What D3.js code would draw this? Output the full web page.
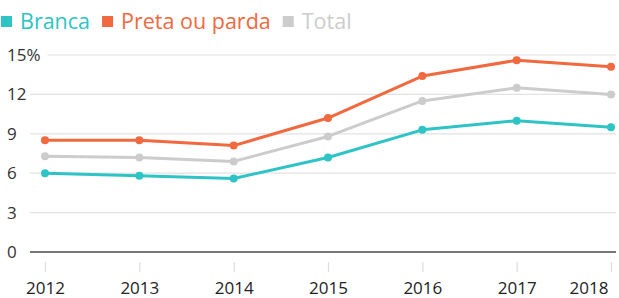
<!DOCTYPE html>
<html>
<head>
<meta charset="utf-8">
<script src="https://cdn.jsdelivr.net/npm/d3@7"></script>
<style>
  body { margin: 0; background: #fff; }
  svg { display: block; font-family: "Open Sans", sans-serif; }
</style>
</head>
<body>
<svg id="chart"></svg>
<script>
// Data
const years = [2012, 2013, 2014, 2015, 2016, 2017, 2018];
const branca = [6.0, 5.8, 5.6, 7.2, 9.3, 10.0, 9.5];
const pretaParda = [8.5, 8.5, 8.1, 10.2, 13.4, 14.6, 14.1];
const total = [7.3, 7.2, 6.9, 8.8, 11.5, 12.5, 12.0];
const yTicks = [0, 3, 6, 9, 12, 15];
const seriesNames = ["Branca", "Preta ou parda", "Total"];
const seriesColors = ["#2ec4c6", "#f0693f", "#cccccc"];

const width = 619;
const height = 298;

const series = [
  { name: seriesNames[0], values: branca, color: seriesColors[0] },
  { name: seriesNames[1], values: pretaParda, color: seriesColors[1] },
  { name: seriesNames[2], values: total, color: seriesColors[2] }
];

const x = d3.scaleLinear()
    .domain([2012, 2018])
    .range([45, 611]);

const y = d3.scaleLinear()
    .domain([0, 15])
    .range([252, 55]);

const svg = d3.select("#chart")
    .attr("width", width)
    .attr("height", height)
    .attr("viewBox", [0, 0, width, height]);

// Legend
const legend = svg.append("g");
let lx = 1;
series.forEach(s => {
  const g = legend.append("g").attr("transform", `translate(${lx},0)`);
  g.append("rect")
      .attr("x", 0).attr("y", 16)
      .attr("width", 11).attr("height", 11)
      .attr("fill", s.color);
  const t = g.append("text")
      .attr("x", 19).attr("y", 29)
      .attr("fill", s.color)
      .attr("font-size", 21.5)
      .text(s.name);
  lx += 19 + t.node().getComputedTextLength() + 12;
});

// Y axis labels + gridlines
const yAxis = svg.append("g");
yTicks.forEach(v => {
  const t = yAxis.append("text")
      .attr("x", 7)
      .attr("y", y(v))
      .attr("dy", "0.35em")
      .attr("fill", "#333")
      .attr("font-size", 17)
      .text(v === 15 ? "15%" : v);
  const start = v === 15 ? 7 + t.node().getComputedTextLength() + 7 : 30;
  yAxis.append("line")
      .attr("x1", start).attr("x2", 616)
      .attr("y1", y(v)).attr("y2", y(v))
      .attr("stroke", v === 0 ? "#777" : "#e2e2e2")
      .attr("stroke-width", v === 0 ? 2 : 1.2);
});

// X axis
const xAxis = svg.append("g")
    .attr("transform", `translate(0,262)`)
    .call(d3.axisBottom(x)
        .tickValues(years)
        .tickFormat(d3.format("d"))
        .tickSize(10)
        .tickPadding(10)
        .tickSizeOuter(0));
xAxis.select(".domain").remove();
xAxis.selectAll(".tick line").attr("stroke", "#ddd").attr("stroke-width", 1.2);
xAxis.selectAll(".tick text")
    .attr("fill", "#222")
    .attr("font-size", 17)
    .attr("font-family", "Open Sans, sans-serif");
// last label sits left of its tick so it stays inside the frame
xAxis.selectAll(".tick text")
    .filter(d => d === 2018)
    .attr("text-anchor", "end")
    .attr("dx", -3);

// Lines
const line = d3.line()
    .x((d, i) => x(years[i]))
    .y(d => y(d));

const lines = svg.append("g");
series.slice().reverse().forEach(s => {
  lines.append("path")
      .attr("fill", "none")
      .attr("stroke", s.color)
      .attr("stroke-width", 3)
      .attr("stroke-linejoin", "round")
      .attr("d", line(s.values));
  lines.selectAll(null)
    .data(s.values)
    .join("circle")
      .attr("cx", (d, i) => x(years[i]))
      .attr("cy", d => y(d))
      .attr("r", 4)
      .attr("fill", s.color);
});
</script>
</body>
</html>
